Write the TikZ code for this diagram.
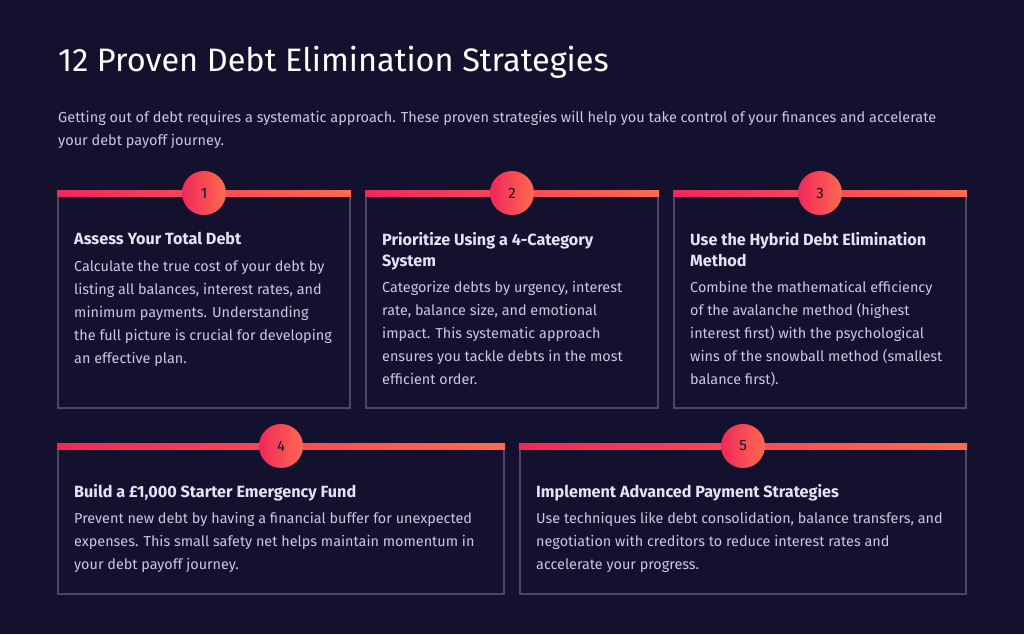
\documentclass[tikz,border=0pt]{standalone}
\usepackage{fontspec}
\setmainfont{Fira Sans}
\usetikzlibrary{positioning}
\definecolor{bgnavy}{HTML}{14112F}
\definecolor{cardline}{HTML}{4A4868}
\definecolor{barpink}{HTML}{F0285A}
\definecolor{barorange}{HTML}{FF6A50}
\definecolor{bodytext}{HTML}{C9C8E0}
\definecolor{headtext}{HTML}{E4E3F2}
\tikzset{
  cardbox/.style={draw=cardline, line width=1.2pt},
  numdot/.style={circle, minimum size=44pt, inner sep=0pt, shading=axis,
    left color=barpink, right color=barorange, text=bgnavy, font=\fontsize{15}{15}\selectfont},
  cardhead/.style={anchor=north west, inner sep=0pt, text=headtext, align=left,
    font=\fontsize{16.2}{21}\selectfont\bfseries},
  cardbody/.style={anchor=north west, inner sep=0pt, text=bodytext, align=left,
    font=\fontsize{14.4}{23}\selectfont},
}
% card: name, x1, y1, x2, y2
\newcommand{\debtcard}[6]{
  \draw[cardbox] (#2,#3) rectangle (#4,#5);
  \shade[left color=barpink, right color=barorange] (#2-1,#3-3) rectangle (#4+1,#3+3);
  \node[numdot] (#1) at ({(#2+#4)/2},#3) {#6};
}
\begin{document}
\begin{tikzpicture}[x=1pt,y=-1pt]
  \fill[bgnavy] (0,0) rectangle (1024,634);
  \useasboundingbox (0,0) rectangle (1024,634);
  \node[anchor=west, text=white, inner sep=0pt, font=\fontsize{32.5}{32}\selectfont] (title) at (58,62) {12 Proven Debt Elimination Strategies};
  \node[anchor=north west, text=bodytext, inner sep=0pt, align=left, font=\fontsize{14.5}{23}\selectfont] (intro) at (58,111)
    {Getting out of debt requires a systematic approach. These proven strategies will help you take control of your finances and accelerate\\your debt payoff journey.};
  % first row
  \debtcard{n1}{58}{193}{350}{408}{1}
  \debtcard{n2}{366}{193}{658}{408}{2}
  \debtcard{n3}{674}{193}{966}{408}{3}
  % second row
  \debtcard{n4}{58}{446}{504}{594}{4}
  \debtcard{n5}{520}{446}{966}{594}{5}
  \node[cardhead] (h1) at (74,232) {Assess Your Total Debt};
  \node[cardbody] (b1) at (74,260) {Calculate the true cost of your debt by\\listing all balances, interest rates, and\\minimum payments. Understanding\\the full picture is crucial for developing\\an effective plan.};
  \node[cardhead] (h2) at (382,232) {Prioritize Using a 4-Category\\System};
  \node[cardbody] (b2) at (382,281) {Categorize debts by urgency, interest\\rate, balance size, and emotional\\impact. This systematic approach\\ensures you tackle debts in the most\\efficient order.};
  \node[cardhead] (h3) at (690,232) {Use the Hybrid Debt Elimination\\Method};
  \node[cardbody] (b3) at (690,281) {Combine the mathematical efficiency\\of the avalanche method (highest\\interest first) with the psychological\\wins of the snowball method (smallest\\balance first).};
  \node[cardhead] (h4) at (74,484) {Build a £1,000 Starter Emergency Fund};
  \node[cardbody] (b4) at (74,512) {Prevent new debt by having a financial buffer for unexpected\\expenses. This small safety net helps maintain momentum in\\your debt payoff journey.};
  \node[cardhead] (h5) at (536,484) {Implement Advanced Payment Strategies};
  \node[cardbody] (b5) at (536,512) {Use techniques like debt consolidation, balance transfers, and\\negotiation with creditors to reduce interest rates and\\accelerate your progress.};
\end{tikzpicture}
\end{document}
